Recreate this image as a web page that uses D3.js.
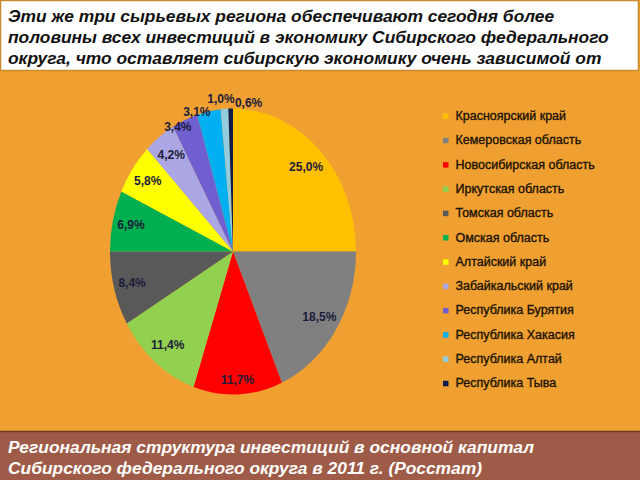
<!DOCTYPE html>
<html><head><meta charset="utf-8">
<script src="https://cdn.jsdelivr.net/npm/d3@7/dist/d3.min.js"></script>
<style>
html,body{margin:0;padding:0;background:#EFA030;}
svg{display:block;}
</style>
</head><body>
<svg id="c" width="640" height="480"></svg>
<script>
// ---- data ----
const regions = ["Красноярский край","Кемеровская область","Новосибирская область","Иркутская область","Томская область","Омская область","Алтайский край","Забайкальский край","Республика Бурятия","Республика Хакасия","Республика Алтай","Республика Тыва"];
const shares = [25.0, 18.5, 11.7, 11.4, 8.4, 6.9, 5.8, 4.2, 3.4, 3.1, 1.0, 0.6];
const sliceColors = ["#FFC000","#808080","#FF0000","#92D050","#595959","#00B050","#FFFF00","#ABA6E4","#6F5FD0","#00B0F0","#93CDDD","#0D1A4A"];
const titleLines = ["Эти же три сырьевых региона обеспечивают сегодня более","половины всех инвестиций в экономику Сибирского федерального","округа, что оставляет сибирскую экономику очень зависимой от"];
const captionLines = ["Региональная структура инвестиций в основной капитал","Сибирского федерального округа в 2011 г. (Росстат)"];

// ---- layout (styles / label placement) ----
const W = 640, H = 480;
const cx = 233, cy = 251.5, rx = 123, ry = 143;
const labelRadius = [0.84,0.84,0.9,0.84,0.85,0.85,0.85,0.84,0.98,1.0,1.07,1.04];
const labelNudge = [[0,0],[0,0],[0,0],[0,0],[0,0],[0,0],[0,0],[0,0],[-8,4],[-12,1],[-3,0],[18,0]];

const svg = d3.select("#c");
svg.append("rect").attr("width",W).attr("height",H).attr("fill","#EFA030");

// top text box
svg.append("rect").attr("x",0.5).attr("y",0.5).attr("width",638).attr("height",70)
  .attr("fill","#FFFFFF").attr("stroke","#C98A2E").attr("stroke-width",1.5);
svg.append("g").selectAll("text").data(titleLines).join("text")
  .attr("x",8).attr("y",(d,i)=>22+i*21)
  .attr("font-family","Liberation Sans, Arial, sans-serif")
  .attr("font-size",17.4).attr("font-weight","bold").attr("font-style","italic")
  .attr("fill","#111").text(d=>d);

// bottom caption panel
svg.append("rect").attr("x",0).attr("y",431).attr("width",W).attr("height",49).attr("fill","#9E5B47");
svg.append("line").attr("x1",0).attr("x2",W).attr("y1",431.5).attr("y2",431.5).attr("stroke","#6E3A28").attr("stroke-width",1.5);
svg.append("g").selectAll("text").data(captionLines).join("text")
  .attr("x",8).attr("y",(d,i)=>453+i*21)
  .attr("font-family","Liberation Sans, Arial, sans-serif")
  .attr("font-size",17.4).attr("font-weight","bold").attr("font-style","italic")
  .attr("fill","#FFFFFF").text(d=>d);

// pie
const pie = d3.pie().sort(null).value(d=>d);
const arcs = pie(shares);
const arc = d3.arc().innerRadius(0).outerRadius(rx);
const color = d3.scaleOrdinal().domain(regions).range(sliceColors);
const g = svg.append("g").attr("transform",`translate(${cx},${cy}) scale(1,${ry/rx})`);
g.selectAll("path").data(arcs).join("path")
  .attr("d",arc).attr("fill",(d,i)=>color(regions[i]));

// labels
const fmt = v => d3.format(".1f")(v).replace(".",",") + "%";
svg.append("g").selectAll("text").data(arcs).join("text")
  .attr("x",(d,i)=>{const a=(d.startAngle+d.endAngle)/2; return cx + Math.sin(a)*rx*labelRadius[i] + labelNudge[i][0];})
  .attr("y",(d,i)=>{const a=(d.startAngle+d.endAngle)/2; return cy - Math.cos(a)*ry*labelRadius[i] + labelNudge[i][1];})
  .attr("text-anchor","middle").attr("dominant-baseline","central")
  .attr("font-family","Liberation Sans, Arial, sans-serif")
  .attr("font-size",12).attr("font-weight","bold")
  .attr("fill","#1C1C3A").text(d=>fmt(d.data));

// legend
const ly = d3.scalePoint().domain(regions).range([116,383.3]);
const leg = svg.append("g").selectAll("g").data(regions).join("g")
  .attr("transform",d=>`translate(443,${ly(d)})`);
leg.append("rect").attr("x",0).attr("y",-2.5).attr("width",5.5).attr("height",5.5).attr("fill",d=>color(d));
leg.append("text").attr("x",12.5).attr("y",0).attr("dominant-baseline","central")
  .attr("font-family","Liberation Sans, Arial, sans-serif")
  .attr("font-size",12.5).attr("fill","#1A1208")
  .attr("stroke","#1A1208").attr("stroke-width",0.35).text(d=>d);
</script>
</body></html>
